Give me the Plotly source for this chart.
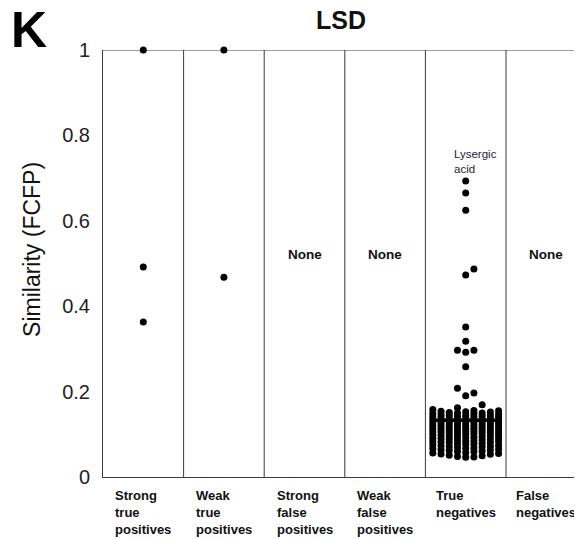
import plotly.graph_objects as go

categories = ["Strong<br>true<br>positives", "Weak<br>true<br>positives",
              "Strong<br>false<br>positives", "Weak<br>false<br>positives",
              "True<br>negatives", "False<br>negatives"]

strong_tp = [1.0, 0.492, 0.363]
weak_tp = [1.0, 0.468]
strong_fp = []
weak_fp = []
false_neg = []

tn_outliers = [0.693, 0.665, 0.625, 0.487, 0.473, 0.351, 0.318,
               0.297, 0.292, 0.297, 0.258, 0.208, 0.190, 0.197]
tn_cluster = [
    0.046, 0.048, 0.050, 0.051, 0.053, 0.054, 0.056, 0.057, 0.059,
    0.060, 0.061, 0.063, 0.064, 0.065, 0.067, 0.068, 0.069, 0.071,
    0.072, 0.073, 0.074, 0.075, 0.077, 0.078, 0.079, 0.080, 0.081,
    0.082, 0.083, 0.084, 0.086, 0.087, 0.088, 0.089, 0.090, 0.091,
    0.092, 0.093, 0.094, 0.095, 0.096, 0.097, 0.098, 0.099, 0.100,
    0.101, 0.102, 0.103, 0.104, 0.105, 0.105, 0.106, 0.107, 0.108,
    0.109, 0.110, 0.111, 0.112, 0.112, 0.113, 0.114, 0.115, 0.116,
    0.117, 0.118, 0.118, 0.119, 0.120, 0.121, 0.122, 0.123, 0.124,
    0.125, 0.125, 0.126, 0.127, 0.128, 0.129, 0.130, 0.130, 0.131,
    0.132, 0.133, 0.134, 0.135, 0.135, 0.136, 0.137, 0.138, 0.139,
    0.140, 0.141, 0.141, 0.142, 0.143, 0.144, 0.145, 0.146, 0.147,
    0.148, 0.149, 0.150, 0.151, 0.152, 0.153, 0.155, 0.156, 0.158,
    0.162, 0.169,
    0.047, 0.055, 0.062, 0.066, 0.070, 0.076, 0.083, 0.085, 0.091,
    0.097, 0.103, 0.108, 0.114, 0.120, 0.127, 0.133, 0.139, 0.144,
    0.150, 0.154,
]
true_neg = tn_outliers + tn_cluster

groups = [strong_tp, weak_tp, strong_fp, weak_fp, true_neg, false_neg]

yticks = [0, 0.2, 0.4, 0.6, 0.8, 1]
yticklabels = ["0", "0.2", "0.4", "0.6", "0.8", "1"]

FONT = "Liberation Sans, Arial, sans-serif"
AXC = "#3a3a3a"


def swarm(values, d=0.019):
    order = [0, 1, -1, 2, -2, 3, -3, 4, -4]
    last = {}
    offs = [0] * len(values)
    idx = sorted(range(len(values)), key=lambda i: values[i])
    for i in idx:
        v = values[i]
        chosen = None
        for c in order:
            if c not in last or v - last[c] >= d:
                chosen = c
                break
        if chosen is None:
            chosen = min(order, key=lambda c: last[c])
        last[chosen] = v
        offs[i] = chosen
    return offs


SPACING = 0.102
fig = go.Figure()

for gi, vals in enumerate(groups):
    if not vals:
        continue
    offs = swarm(vals)
    xs = [gi + o * SPACING for o in offs]
    fig.add_trace(go.Scatter(x=xs, y=vals, mode="markers", cliponaxis=False,
                             marker=dict(color="black", size=7,
                                         line=dict(width=0)),
                             showlegend=False))

# mean line for true negatives (drawn over the dots)
tn_mean = sum(true_neg) / len(true_neg)
fig.add_trace(go.Scatter(x=[4 - 0.40, 4 + 0.45], y=[tn_mean, tn_mean], mode="lines",
                         line=dict(color="black", width=3.5), hoverinfo="skip",
                         showlegend=False))

# column separators and top line
for k in range(5):
    fig.add_shape(type="line", xref="x", yref="y", x0=k + 0.5, x1=k + 0.5, y0=0, y1=1,
                  line=dict(color=AXC, width=1), layer="below")
fig.add_shape(type="line", xref="paper", yref="y", x0=0, x1=1, y0=1, y1=1,
              line=dict(color=AXC, width=1), layer="below")

# "None" labels
for gi, vals in enumerate(groups):
    if not vals:
        fig.add_annotation(x=gi, y=0.52, xref="x", yref="y", text="<b>None</b>",
                           showarrow=False, font=dict(family=FONT, size=13.5, color="#111"))

# category labels
for gi, lab in enumerate(categories):
    fig.add_annotation(x=gi, y=-0.022, xref="x", yref="paper", text="<b>" + lab + "</b>",
                       showarrow=False, xanchor="center", yanchor="top", align="left",
                       font=dict(family=FONT, size=13, color="#111"))

fig.add_annotation(x=3.83, y=0.739, xref="x", yref="y", text="Lysergic<br>acid",
                   showarrow=False, xanchor="left", yanchor="middle", align="left",
                   font=dict(family=FONT, size=11.5, color="#22223a"))

fig.add_annotation(x=0.497, y=1.070, xref="paper", yref="paper", text="<b>LSD</b>",
                   showarrow=False, xanchor="center", yanchor="middle",
                   font=dict(family=FONT, size=25, color="#111"))
fig.add_annotation(x=-0.196, y=1.047, xref="paper", yref="paper", text="<b>K</b>",
                   showarrow=False, xanchor="left", yanchor="middle",
                   font=dict(family=FONT, size=50, color="#000"))
fig.add_annotation(x=-0.148, y=0.532, xref="paper", yref="paper", text="Similarity (FCFP)",
                   showarrow=False, textangle=-90, xanchor="center", yanchor="middle",
                   font=dict(family=FONT, size=23, color="#111"))

# the page body has an 8px margin, so the figure is 8px smaller and shifted
fig.update_layout(
    width=574, height=531,
    margin=dict(l=95, r=0, t=42, b=62),
    plot_bgcolor="white", paper_bgcolor="white",
    xaxis=dict(range=[-0.5, 5.443], showgrid=False, zeroline=False, showticklabels=False,
               showline=True, linecolor=AXC, linewidth=1, ticks=""),
    yaxis=dict(range=[0, 1], showgrid=False, zeroline=False, showline=True,
               linecolor=AXC, linewidth=1, tickvals=yticks, ticktext=yticklabels,
               ticks="", ticklabelstandoff=8,
               tickfont=dict(family=FONT, size=20, color="#222")),
)

fig.write_html("out.html")
